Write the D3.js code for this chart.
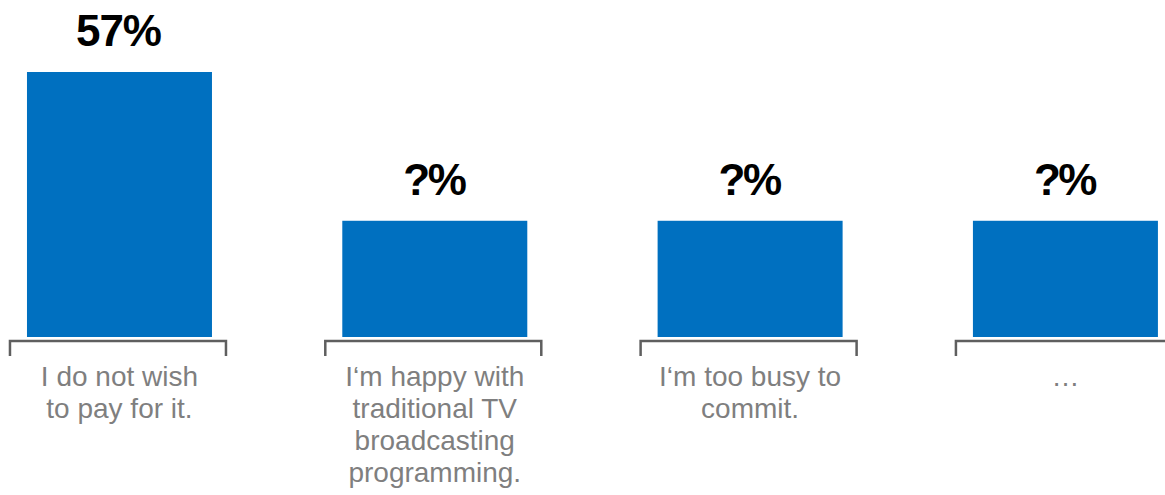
<!DOCTYPE html>
<html>
<head>
<meta charset="utf-8">
<script src="https://cdn.jsdelivr.net/npm/d3@7"></script>
<style>
  html, body { margin: 0; padding: 0; background: #fff; }
  svg { display: block; }
</style>
</head>
<body>
<svg id="chart" width="1165" height="495"></svg>
<script>
const categories = [
  "I do not wish\nto pay for it.",
  "I‘m happy with\ntraditional TV\nbroadcasting\nprogramming.",
  "I‘m too busy to\ncommit.",
  "…"
];
const values = [57, 25, 25, 25];
const valueLabels = ["57%", "?%", "?%", "?%"];

const svg = d3.select("#chart");
const W = 1165, H = 495;
const baseY = 337;

const x = d3.scaleBand()
  .domain(categories)
  .range([-38.2, 1223.1])
  .paddingInner(0.4133)
  .paddingOuter(0.2067);

const y = d3.scaleLinear()
  .domain([0, 57])
  .range([baseY, 72]);

const g = svg.append("g");

// bars
g.selectAll("rect.bar")
  .data(categories)
  .join("rect")
  .attr("class", "bar")
  .attr("x", d => x(d))
  .attr("width", x.bandwidth())
  .attr("y", (d, i) => y(values[i]))
  .attr("height", (d, i) => y(0) - y(values[i]))
  .attr("fill", "#0070C0");

// value labels
g.selectAll("text.val")
  .data(categories)
  .join("text")
  .attr("class", "val")
  .attr("x", d => x(d) + x.bandwidth() / 2 - 1)
  .attr("y", (d, i) => y(values[i]) - 26)
  .attr("text-anchor", "middle")
  .attr("font-family", "Liberation Sans, Arial, sans-serif")
  .attr("font-weight", "bold")
  .attr("font-size", 44)
  .attr("letter-spacing", (d, i) => i === 0 ? -1 : -2.5)
  .attr("fill", "#000")
  .text((d, i) => valueLabels[i]);

// brackets
const halfB = 108;
g.selectAll("path.bracket")
  .data(categories)
  .join("path")
  .attr("class", "bracket")
  .attr("d", d => {
    const c = x(d) + x.bandwidth() / 2 - 1.5;
    const l = c - halfB, r = c + halfB;
    const ty = baseY + 4, by = baseY + 19;
    return `M${l},${by} L${l},${ty} L${r},${ty} L${r},${by}`;
  })
  .attr("fill", "none")
  .attr("stroke", "#5f5f5f")
  .attr("stroke-width", 2.5);

// category labels
const lab = g.selectAll("text.cat")
  .data(categories)
  .join("text")
  .attr("class", "cat")
  .attr("x", d => x(d) + x.bandwidth() / 2)
  .attr("y", 386)
  .attr("text-anchor", "middle")
  .attr("font-family", "Liberation Sans, Arial, sans-serif")
  .attr("font-size", 28)
  .attr("fill", "#7f7f7f");

lab.selectAll("tspan")
  .data(d => d.split("\n").map(s => ({ s, cx: x(d) + x.bandwidth() / 2 })))
  .join("tspan")
  .attr("x", t => t.cx)
  .attr("dy", (t, i) => i === 0 ? 0 : 32)
  .text(t => t.s);
</script>
</body>
</html>
